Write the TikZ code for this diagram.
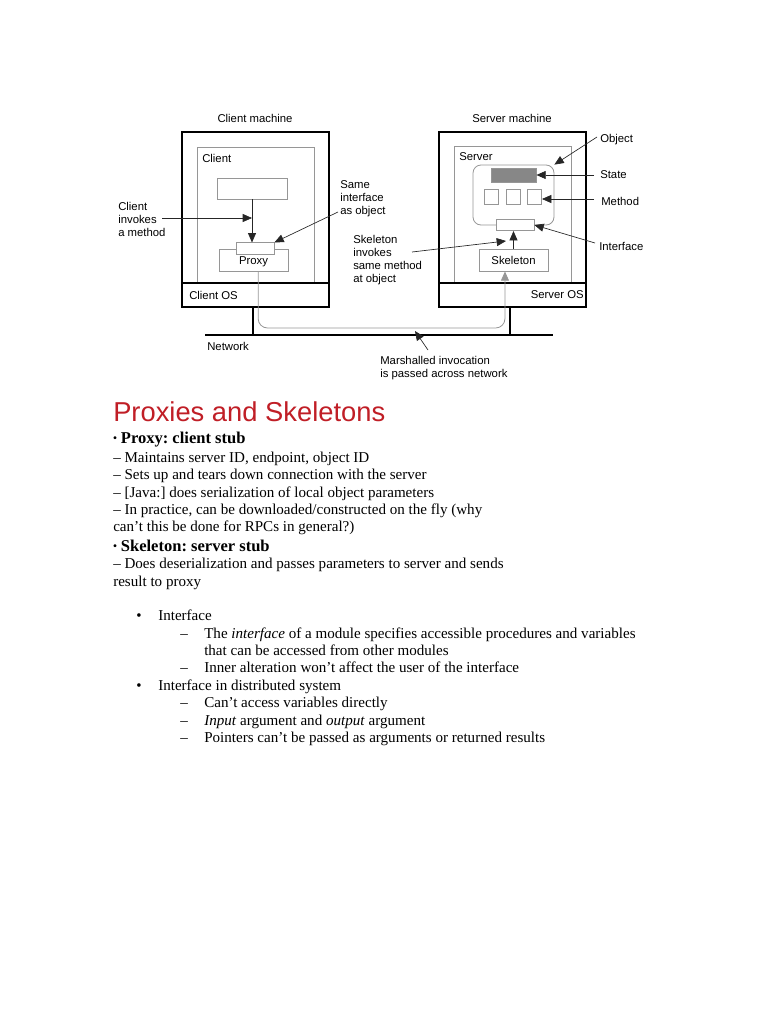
\documentclass[tikz,border=0pt]{standalone}
\usepackage{fontspec}
\setmainfont{Liberation Serif}
\newfontfamily\diagfont{Liberation Sans}
\usetikzlibrary{arrows.meta, positioning, calc}
\definecolor{titlered}{RGB}{192,30,38}
\definecolor{boxgray}{RGB}{150,150,150}
\definecolor{stategray}{RGB}{135,135,135}
\frenchspacing

\begin{document}
\begin{tikzpicture}[x=0.75pt, y=-0.75pt,
    machine/.style={rectangle, draw=black, line width=1.3pt, minimum width=110.25pt, minimum height=131.25pt, inner sep=0pt},
    area/.style={rectangle, draw=boxgray, line width=0.7pt, minimum width=87.75pt, inner sep=0pt},
    part/.style={rectangle, draw=boxgray, line width=0.6pt, fill=white, inner sep=0pt, font=\diagfont\fontsize{8.5}{10}\selectfont},
    stub/.style={part, minimum width=28.5pt, minimum height=8.5pt},
    lbl/.style={anchor=west, align=left, inner sep=0pt, font=\diagfont\fontsize{8.5}{9.75}\selectfont},
    pointer/.style={-{Triangle[length=7pt,width=6pt]}, draw=black!85, line width=0.5pt},
    wire/.style={draw=black, line width=1.5pt},
    txt/.style={anchor=base west, inner sep=0pt, font=\fontsize{11.3}{13}\selectfont},
    head/.style={anchor=base west, inner sep=0pt, font=\fontsize{12.4}{15}\selectfont\bfseries}
  ]
  \useasboundingbox (0,0) rectangle (768,1024);

  % client machine
  \node[lbl, anchor=center] (cmlabel) at (255,118) {Client machine};
  \node[machine] (cm) at (255.5,219.5) {};
  \node[area, minimum height=102pt] (client) at (255.5,215) {};
  \draw[black, line width=1.3pt] (cm.west |- 0,283) -- (cm.east |- 0,283);
  \node[lbl] (clientname) at (202,158) {Client};
  \node[lbl] (clientos) at (189,295) {Client OS};
  \node[part, minimum width=52.5pt, minimum height=15.75pt] (caller) at (252,188.5) {};
  \node[part, minimum width=51.75pt, minimum height=16.5pt] (proxy) at (253.5,260) {\raisebox{-3.2pt}[0pt][0pt]{Proxy}};
  \node[stub] (cstub) at (255,248.5) {};

  % server machine
  \node[lbl, anchor=center] (smlabel) at (512,118) {Server machine};
  \node[machine] (sm) at (512.5,219.5) {};
  \node[area, minimum height=102.75pt] (server) at (512.5,214.5) {};
  \draw[black, line width=1.3pt] (sm.west |- 0,283) -- (sm.east |- 0,283);
  \node[lbl] (servername) at (459,157) {Server};
  \node[lbl, anchor=east] (serveros) at (584,295) {Server OS};
  \node[part, rounded corners=6pt, minimum width=60.75pt, minimum height=45pt] (object) at (513.5,195) {};
  \node[rectangle, draw=boxgray, fill=stategray, line width=0.6pt, minimum width=33.75pt, minimum height=10.5pt, inner sep=0pt] (state) at (513.5,175) {};
  \node[part, minimum width=10.5pt, minimum height=11.25pt] (meth1) at (491,196.5) {};
  \node[part, minimum width=10.5pt, minimum height=11.25pt] (meth2) at (513,196.5) {};
  \node[part, minimum width=10.5pt, minimum height=11.25pt] (meth3) at (534,196.5) {};
  \node[stub] (sstub) at (515,225) {};
  \node[part, minimum width=51.75pt, minimum height=16.5pt] (skeleton) at (513.5,260) {Skeleton};

  % network
  \coordinate (netwest) at (205,335);
  \coordinate (neteast) at (553,335);
  \draw[wire] (netwest) -- (neteast);
  \draw[wire] ([xshift=-2pt]cm.south) -- ([xshift=-2pt]cm.south |- netwest);
  \draw[wire] ([xshift=-2pt]sm.south) -- ([xshift=-2pt]sm.south |- netwest);
  \node[lbl] (network) at (207,346) {Network};

  % calls
  \draw[pointer] (caller.south) -- (caller.south |- cstub.north);
  \draw[pointer] (skeleton.north) -- (skeleton.north |- sstub.south);
  \draw[draw=boxgray, line width=0.6pt, rounded corners=7pt, -{Triangle[length=7pt,width=6pt]}]
    ([xshift=3.5pt]proxy.south) -- ([xshift=3.5pt]proxy.south |- 0,328) -- ([xshift=-6.4pt]skeleton.south |- 0,328) -- ([xshift=-6.4pt]skeleton.south);

  % labels
  \node[lbl] (invokes) at (118,219) {Client\\invokes\\a method};
  \node[lbl] (sameif) at (340,199) {Same\\interface\\as object};
  \node[lbl] (skelinv) at (353,260) {Skeleton\\invokes\\same method\\at object};
  \node[lbl] (objlabel) at (600,140) {Object};
  \node[lbl] (statelabel) at (600,175) {State};
  \node[lbl] (methlabel) at (601,201) {Method};
  \node[lbl] (iflabel) at (599,246) {Interface};
  \node[lbl] (marshal) at (380,368) {Marshalled invocation\\is passed across network};

  \coordinate (invtail) at (162,218);
  \coordinate (sametail) at (338,212);
  \coordinate (skeltail) at (412,252);
  \coordinate (objtail) at (597,137);
  \coordinate (statetail) at (594,175);
  \coordinate (methtail) at (594,199);
  \coordinate (iftail) at (595,243);
  \coordinate (marshtail) at (428,350);

  \draw[pointer] (invtail) -- (caller.south |- invtail);
  \draw[pointer] (sametail) -- (cstub.north east);
  \draw[pointer] (skeltail) -- (506,241);
  \draw[pointer] (objtail) -- (object.north east);
  \draw[pointer] (statetail) -- (state.east |- statetail);
  \draw[pointer] (methtail) -- (542,199);
  \draw[pointer] (iftail) -- (sstub.east);
  \draw[pointer] (marshtail) -- (415,331);

  % text
  \node[anchor=base west, inner sep=0pt, font=\diagfont\fontsize{20.5}{24}\selectfont, text=titlered] (title) at (113,421) {Proxies and Skeletons};

  \node[head] (proxyhead) at (113,443) {{\diagfont\fontsize{7.5}{8}\selectfont\raisebox{1.5pt}{\textbullet}}\ Proxy: client stub};
  \node[txt] (p1) at (113,462) {– Maintains server ID, endpoint, object ID};
  \node[txt] (p2) at (113,479) {– Sets up and tears down connection with the server};
  \node[txt] (p3) at (113,497) {– [Java:] does serialization of local object parameters};
  \node[txt] (p4) at (113,514) {– In practice, can be downloaded/constructed on the fly (why};
  \node[txt] (p5) at (113,531) {can’t this be done for RPCs in general?)};
  \node[head] (skelhead) at (113,551) {{\diagfont\fontsize{7.5}{8}\selectfont\raisebox{1.5pt}{\textbullet}}\ Skeleton: server stub};
  \node[txt] (s1) at (113,568) {– Does deserialization and passes parameters to server and sends};
  \node[txt] (s2) at (113,586) {result to proxy};

  \node[txt] (b1) at (136,620) {•};
  \node[txt] (b1t) at (158,620) {Interface};
  \node[txt] (d1) at (180,638) {–};
  \node[txt] (d1t) at (204,638) {The \textit{interface} of a module specifies accessible procedures and variables};
  \node[txt] (d1u) at (204,655) {that can be accessed from other modules};
  \node[txt] (d2) at (180,672) {–};
  \node[txt] (d2t) at (204,672) {Inner alteration won’t affect the user of the interface};
  \node[txt] (b2) at (136,690) {•};
  \node[txt] (b2t) at (158,690) {Interface in distributed system};
  \node[txt] (d3) at (180,707) {–};
  \node[txt] (d3t) at (204,707) {Can’t access variables directly};
  \node[txt] (d4) at (180,725) {–};
  \node[txt] (d4t) at (204,725) {\textit{Input} argument and \textit{output} argument};
  \node[txt] (d5) at (180,742) {–};
  \node[txt] (d5t) at (204,742) {Pointers can’t be passed as arguments or returned results};
\end{tikzpicture}
\end{document}
